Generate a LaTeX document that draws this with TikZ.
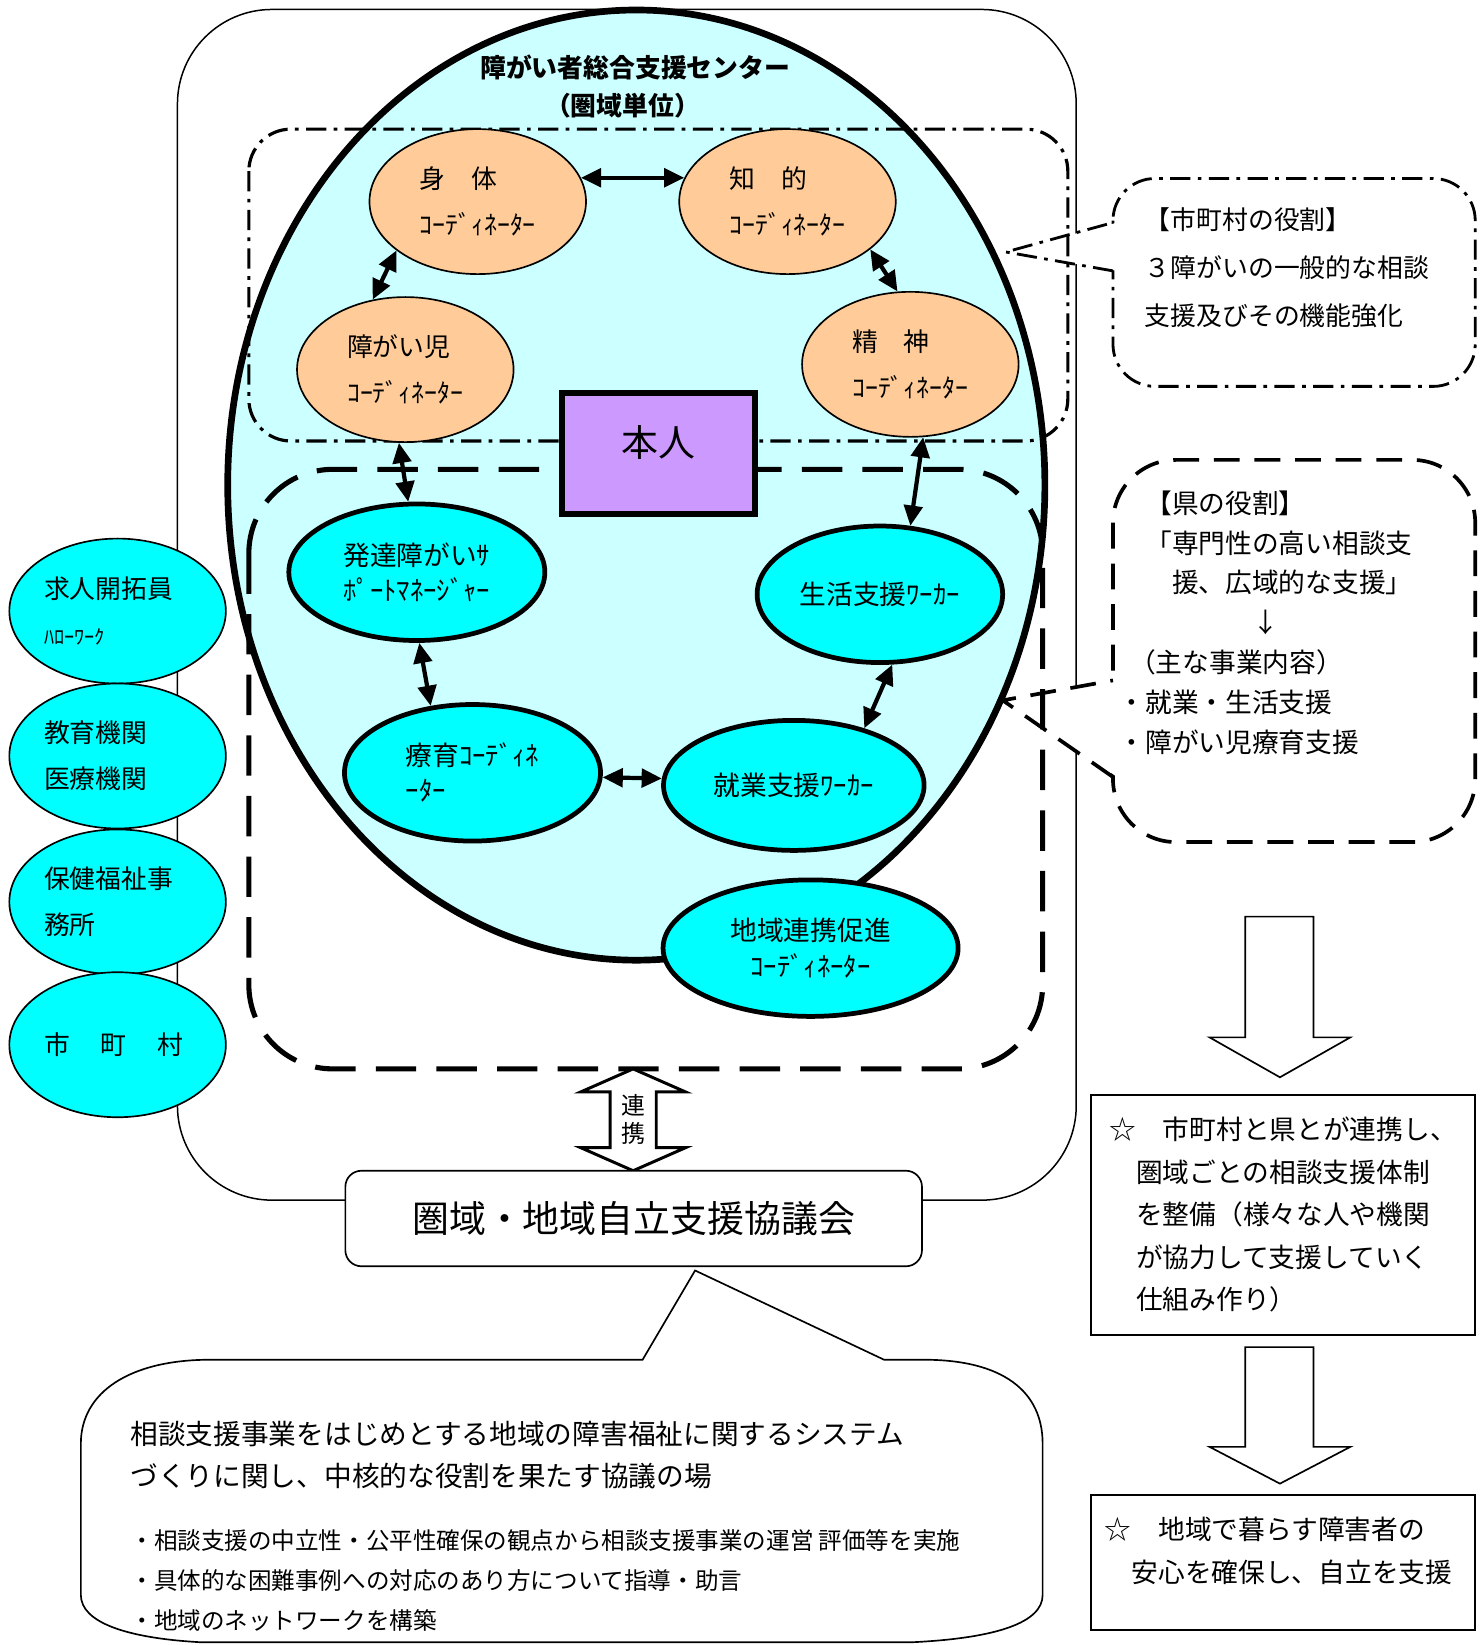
\documentclass[tikz,border=0pt]{standalone}
\usepackage{fontspec}
\setmainfont{Noto Sans CJK JP}
\usetikzlibrary{shapes.geometric,arrows.meta}
\definecolor{peach}{HTML}{FFCC99}
\definecolor{palecyan}{HTML}{CCFFFF}
\definecolor{aqua}{HTML}{00FFFF}
\definecolor{lilac}{HTML}{CC99FF}

\begin{document}
\begin{tikzpicture}[x=0.021cm, y=-0.021cm,
                coord/.style={ellipse, draw, fill=peach, line width=0.95pt, minimum width=4.33cm, minimum height=2.9cm, inner sep=0pt, align=left, font=\fontsize{14.7pt}{26.3pt}\selectfont},
                worker/.style={ellipse, draw, fill=aqua, line width=2.7pt, minimum height=2.73cm, inner sep=0pt, font=\fontsize{15.2pt}{20pt}\selectfont},
                agency/.style={ellipse, draw, fill=aqua, line width=0.95pt, minimum width=4.33cm, minimum height=2.9cm, inner sep=0pt, text width=2.94cm, align=left, font=\fontsize{14.7pt}{26.3pt}\selectfont},
                link/.style={{Triangle[length=11.5pt,width=10.5pt]}-{Triangle[length=11.5pt,width=10.5pt]}, line width=2.4pt},
                dashdot/.style={dash pattern=on 11.5pt off 4.2pt on 2.1pt off 4.2pt},
                body/.style={inner sep=0pt, align=left, font=\fontsize{15.2pt}{24.2pt}\selectfont},
                hollow/.style={draw, line width=0.95pt, fill=white}]

                \useasboundingbox (0, 0) rectangle (1412.4, 1566.7);
                \clip (0, 0) rectangle (1412.4, 1566.7);

                % Frame and role callouts
                \draw[line width=0.85pt, rounded corners=1.89cm] (169, 9) rectangle (1025, 1143);

                \draw[dashdot, line width=1.6pt, fill=white, rounded corners=0.84cm] (1060, 170) rectangle (1405, 368);
                \fill[white] (1064, 258) -- (958, 240) -- (1064, 212) -- cycle;
                \draw[dashdot, line width=1.6pt] (1060, 258) -- (958, 240) -- (1060, 212);
                \node[body, font=\fontsize{14.7pt}{27.3pt}\selectfont, anchor=west] at (1090, 255) (citytext) {【市町村の役割】\\３障がいの一般的な相談\\支援及びその機能強化};

                \draw[dash pattern=on 14.7pt off 8.4pt, line width=2.1pt, fill=white, rounded corners=1.26cm] (1060, 438) rectangle (1405, 802);
                \fill[white] (1064, 740) -- (955, 667) -- (1064, 648) -- cycle;
                \draw[dash pattern=on 14.7pt off 8.4pt, line width=2.1pt] (1060, 740) -- (955, 667) -- (1060, 648);
                \node[body, font=\fontsize{15.2pt}{22.7pt}\selectfont, anchor=west] at (1065, 593) (preftext) {\hspace*{1em}【県の役割】\\\hspace*{1em}「専門性の高い相談支\\\hspace*{2em}援、広域的な支援」\\\hspace*{5em}↓\\\hspace*{0.4em}（主な事業内容）\\・就業・生活支援\\・障がい児療育支援};

                % Nodes
                \node[agency] at (112, 582) (kyujin) {求人開拓員\\{\fontsize{11.5pt}{26.3pt}\selectfont ﾊﾛｰﾜｰｸ}};
                \node[agency] at (112, 720) (kyoiku) {教育機関\\医療機関};
                \node[agency] at (112, 859) (hoken) {保健福祉事\\務所};
                \node[agency] at (112, 995) (shicho) {市\hspace{1.2em}町\hspace{1.2em}村};

                \node[ellipse, draw, fill=palecyan, line width=3.8pt, minimum width=16.34cm, minimum height=19cm] at (606, 462) (centre) {};
                \node[font=\bfseries\fontsize{14.7pt}{18.9pt}\selectfont] at (605, 64) (title) {障がい者総合支援センター};
                \node[font=\bfseries\fontsize{14.7pt}{18.9pt}\selectfont] at (593, 101) (unit) {（圏域単位）};

                \draw[dashdot, line width=1.8pt, rounded corners=0.84cm] (237, 123) rectangle (1017, 420);
                \draw[line width=2.9pt, dash pattern=on 23pt off 11.5pt, rounded corners=1.68cm] (237, 447) rectangle (993, 1018);

                \node[coord] at (455, 192) (shintai) {身　体\\ｺｰﾃﾞｨﾈｰﾀｰ};
                \node[coord] at (750, 192) (chiteki) {知　的\\ｺｰﾃﾞｨﾈｰﾀｰ};
                \node[coord] at (386, 352) (shogaiji) {障がい児\\ｺｰﾃﾞｨﾈｰﾀｰ};
                \node[coord] at (867, 347) (seishin) {精　神\\ｺｰﾃﾞｨﾈｰﾀｰ};

                \node[draw, fill=lilac, line width=3.6pt, minimum width=3.86cm, minimum height=2.42cm, text depth=14pt, font=\fontsize{21pt}{25pt}\selectfont] at (627, 432) (honnin) {本人};

                \node[worker, minimum width=5.12cm, align=left] at (397, 545) (hattatsu) {発達障がいｻ\\ﾎﾟｰﾄﾏﾈｰｼﾞｬｰ};
                \node[worker, minimum width=4.91cm] at (838, 566) (seikatsu) {生活支援ﾜｰｶｰ};
                \node[worker, minimum width=5.12cm, align=left] at (450, 736) (ryoiku) {療育ｺｰﾃﾞｨﾈ\\ｰﾀｰ};
                \node[worker, minimum width=5.21cm, minimum height=2.6cm] at (756, 748) (shugyo) {就業支援ﾜｰｶｰ};
                \node[worker, minimum width=5.9cm, align=center] at (772, 903) (chiiki) {地域連携促進\\ｺｰﾃﾞｨﾈｰﾀｰ};

                \draw (shintai.13) edge[link] (chiteki.167);
                \draw (shintai.211) edge[link] (shogaiji.115);
                \draw (chiteki.330) edge[link] (seishin.100);
                \draw (shogaiji.265) edge[link] (hattatsu.97);
                \draw (seishin.280) edge[link] (seikatsu.66);
                \draw (hattatsu.272) edge[link] (ryoiku.122);
                \draw (seikatsu.280) edge[link] (shugyo.39);
                \draw (ryoiku.358) edge[link] (shugyo.177);

                % Council
                \draw[line width=1.7pt, fill=white] (603, 1018) -- (653, 1040) -- (625, 1040) -- (625, 1093) -- (653, 1093) -- (603, 1115) -- (553, 1093) -- (581, 1093) -- (581, 1040) -- (553, 1040) -- cycle;
                \node[inner sep=0pt, align=center, font=\fontsize{13.6pt}{15.8pt}\selectfont] at (603, 1066) (renkei) {連\\携};
                \node[draw, line width=0.95pt, fill=white, rounded corners=0.32cm, minimum width=11.53cm, minimum height=1.91cm, font=\fontsize{21pt}{25pt}\selectfont] at (603.5, 1160.5) (council) {圏域・地域自立支援協議会};

                \draw[line width=0.95pt, fill=white] (200, 1295) -- (612, 1295) -- (662, 1210) -- (842, 1295) -- (880, 1295) .. controls (955, 1295) and (993, 1325) .. (993, 1375) -- (993, 1519) .. controls (993, 1545) and (950, 1560) .. (870, 1564) -- (190, 1564) .. controls (120, 1560) and (77, 1545) .. (77, 1519) -- (77, 1375) .. controls (77, 1325) and (125, 1295) .. (200, 1295) -- cycle;
                \node[anchor=west, inner sep=0pt, align=left, font=\fontsize{15.75pt}{24.2pt}\selectfont] at (124, 1386) (forumtext) {相談支援事業をはじめとする地域の障害福祉に関するシステム\\づくりに関し、中核的な役割を果たす協議の場};
                \node[anchor=west, inner sep=0pt, align=left, font=\fontsize{13.4pt}{22.7pt}\selectfont] at (124, 1505) (forumlist) {・相談支援の中立性・公平性確保の観点から相談支援事業の運営 評価等を実施\\・具体的な困難事例への対応のあり方について指導・助言\\・地域のネットワークを構築};

                % Outcome
                \draw[hollow] (1186, 873) -- (1251, 873) -- (1251, 988) -- (1286, 988) -- (1219, 1026) -- (1152, 988) -- (1186, 988) -- cycle;
                \node[draw, line width=1.05pt, minimum width=7.69cm, minimum height=4.79cm, align=left, font=\fontsize{15.2pt}{24.2pt}\selectfont] at (1222, 1157) (jointbox) {☆　市町村と県とが連携し、\\\hspace*{1em}圏域ごとの相談支援体制\\\hspace*{1em}を整備（様々な人や機関\\\hspace*{1em}が協力して支援していく\\\hspace*{1em}仕組み作り）};
                \draw[hollow] (1186, 1283) -- (1251, 1283) -- (1251, 1378) -- (1286, 1378) -- (1219, 1413) -- (1152, 1378) -- (1186, 1378) -- cycle;
                \node[draw, line width=1.05pt, minimum width=7.69cm, minimum height=2.71cm] at (1222, 1488) (safebox) {};
                \node[body, anchor=west] at (1052, 1477) (safetext) {☆　地域で暮らす障害者の\\\hspace*{1em}安心を確保し、自立を支援};

            \end{tikzpicture}
\end{document}
